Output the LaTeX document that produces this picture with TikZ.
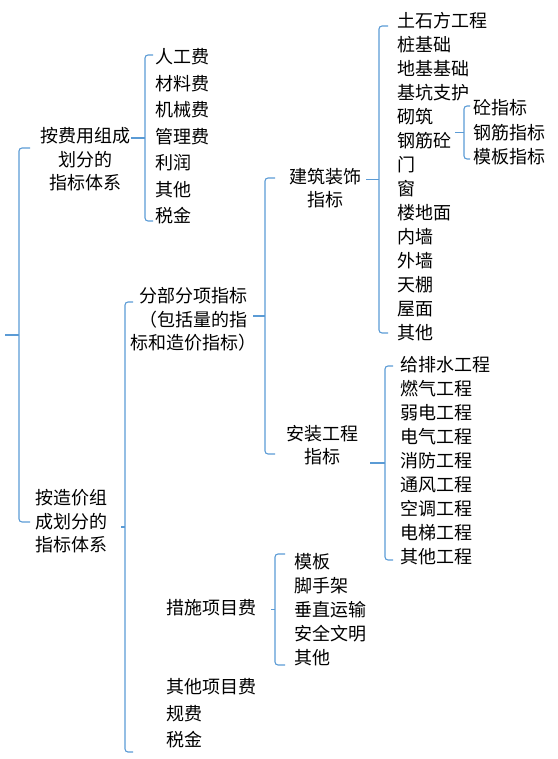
\documentclass[tikz,border=0pt]{standalone}
\usepackage{fontspec}
\setmainfont{Noto Sans CJK SC}
\definecolor{linkblue}{RGB}{91,155,213}

\tikzset{
  txt/.style={inner sep=0pt, font=\fontsize{18}{23.5}\selectfont, text height=15.8pt, text depth=2.2pt},
  item/.style={txt, anchor=west},
  grp/.style={txt, align=center},
  brc/.style={draw=linkblue, line width=1.1pt, rounded corners=3pt},
}
% x, top, bottom, hook, tip
\newcommand\bracket[5]{%
  \draw[brc] ({#1+#4},#2) -- (#1,#2) -- (#1,#3) -- ({#1+#4},#3);
  \draw[brc] (#1,{(#2+#3)/2}) -- (#5,{(#2+#3)/2});
}

\begin{document}
\begin{tikzpicture}[x=1pt,y=-1pt]
  \useasboundingbox (0,0) rectangle (557,759);

  % first level (grp nodes sit on their last line)
  \node[grp] (fyzc) at (85,183) {按费用组成\\划分的\\指标体系};
  \node[grp] (zjzc) at (71.5,545) {按造价组\\成划分的\\指标体系};
  \bracket{19}{148}{522}{11}{5}

  % by cost items
  \foreach \t [count=\i] in {人工费,材料费,机械费,管理费,利润,其他,税金}
    \node[item] (fy\i) at (155,{57+26.5*(\i-1)}) {\t};
  \bracket{145}{55}{221}{8}{131}

  % by price
  \node[grp] (fbfx) at (193,343) {分部分项指标\\（包括量的指\\标和造价指标）};
  \node[item] (csxm) at (166,608) {措施项目费};
  \node[item] (qtxm) at (166,687) {其他项目费};
  \node[item] (gf) at (166,714) {规费};
  \node[item] (sj) at (166,740) {税金};
  \bracket{125}{302}{752}{8}{121}

  \node[grp] (jzzs) at (325.5,200) {建筑装饰\\指标};
  \node[grp] (azgc) at (322.5,457) {安装工程\\指标};
  \bracket{265}{178}{454}{10}{253}

  \foreach \t [count=\i] in {土石方工程,桩基础,地基基础,基坑支护,砌筑,钢筋砼,门,窗,楼地面,内墙,外墙,天棚,屋面,其他}
    \node[item] (jz\i) at (397,{21+24*(\i-1)}) {\t};
  \bracket{379}{26}{333}{9}{366}

  \foreach \t [count=\i] in {砼指标,钢筋指标,模板指标}
    \node[item] (gj\i) at (473,{108+24.5*(\i-1)}) {\t};
  \bracket{464}{106}{159}{6}{455}

  \foreach \t [count=\i] in {给排水工程,燃气工程,弱电工程,电气工程,消防工程,通风工程,空调工程,电梯工程,其他工程}
    \node[item] (az\i) at (400,{365+24*(\i-1)}) {\t};
  \bracket{385}{366}{560}{8}{370}

  \foreach \t [count=\i] in {模板,脚手架,垂直运输,安全文明,其他}
    \node[item] (cs\i) at (294,{562+24*(\i-1)}) {\t};
  \bracket{275}{554}{665}{10}{271}
\end{tikzpicture}
\end{document}
